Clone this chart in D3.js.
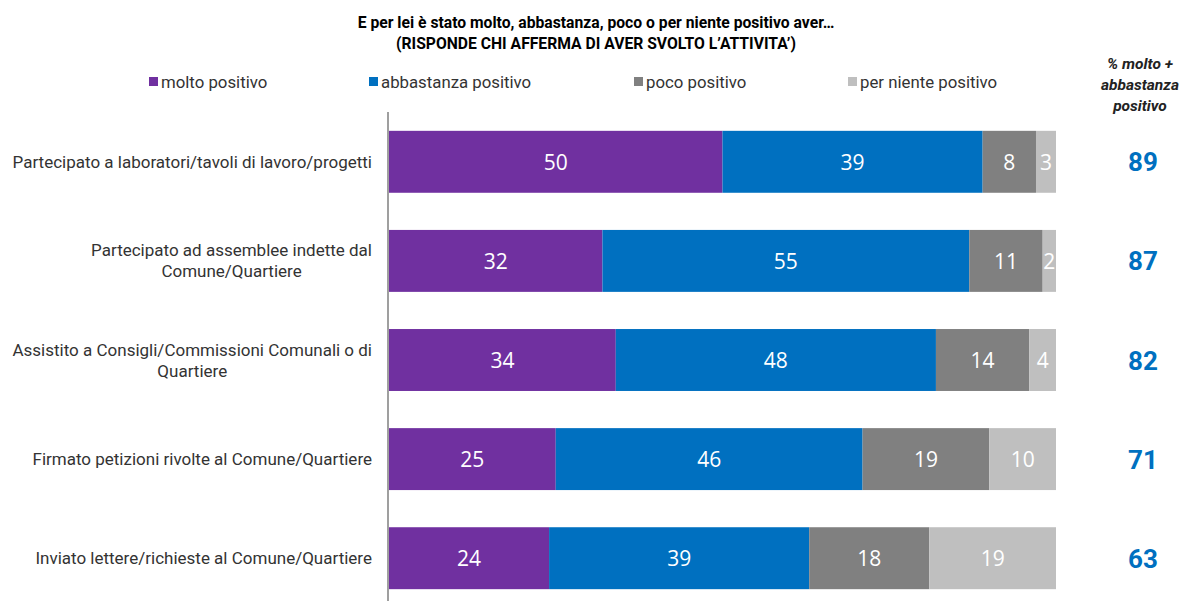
<!DOCTYPE html>
<html><head><meta charset="utf-8">
<script src="https://cdn.jsdelivr.net/npm/d3@7"></script>
<style>body{margin:0;background:#fff;}svg{display:block;}</style>
</head><body>
<svg id="c" width="1189" height="601"></svg>
<script>
const categories = [
  ["Partecipato a laboratori/tavoli di lavoro/progetti"],
  ["Partecipato ad assemblee indette dal", "Comune/Quartiere"],
  ["Assistito a Consigli/Commissioni Comunali o di", "Quartiere"],
  ["Firmato petizioni rivolte al Comune/Quartiere"],
  ["Inviato lettere/richieste al Comune/Quartiere"]
];
const seriesNames = ["molto positivo", "abbastanza positivo", "poco positivo", "per niente positivo"];
const molto = [50, 32, 34, 25, 24];
const abbastanza = [39, 55, 48, 46, 39];
const poco = [8, 11, 14, 19, 18];
const perNiente = [3, 2, 4, 10, 19];
const totals = [89, 87, 82, 71, 63];
const colors = ["#7030A0", "#0070C0", "#808080", "#BFBFBF"];
const titleLines = ["E per lei è stato molto, abbastanza, poco o per niente positivo aver…", "(RISPONDE CHI AFFERMA DI AVER SVOLTO L’ATTIVITA’)"];
const rightHeader = ["% molto +", "abbastanza", "positivo"];

const svg = d3.select("#c");
const font = "Roboto, sans-serif";
const series = [molto, abbastanza, poco, perNiente];
const rows = categories.map((c, i) => {
  const o = {idx: i};
  seriesNames.forEach((s, j) => o[s] = series[j][i]);
  return o;
});
const stacked = d3.stack().keys(seriesNames)(rows);

const x = d3.scaleLinear().domain([0, 100]).range([389, 1056]);
const y = d3.scaleBand().domain(d3.range(categories.length)).range([112, 608]).paddingInner(0.375).paddingOuter(0.19);

// title
svg.append("g").selectAll("text").data(titleLines).join("text")
  .attr("x", 596).attr("y", (d, i) => 28 + i * 21)
  .attr("text-anchor", "middle").attr("font-family", font).attr("font-weight", "bold")
  .attr("font-size", 15.7).attr("fill", "#000").text(d => d);

// legend
const legX = [149, 369, 634, 848];
const leg = svg.append("g").selectAll("g").data(seriesNames).join("g")
  .attr("transform", (d, i) => `translate(${legX[i]},77)`);
leg.append("rect").attr("width", 9).attr("height", 9).attr("y", 0).attr("fill", (d, i) => colors[i]);
leg.append("text").attr("x", 12).attr("y", 11).attr("font-family", font).attr("font-size", 16.8)
  .attr("fill", "#333").text(d => d);

// right header
svg.append("g").selectAll("text").data(rightHeader).join("text")
  .attr("x", 1140).attr("y", (d, i) => 69 + i * 21)
  .attr("text-anchor", "middle").attr("font-family", font).attr("font-weight", "bold")
  .attr("font-style", "italic").attr("font-size", 15.5).attr("fill", "#222").text(d => d);

// bars
const layers = svg.append("g").selectAll("g").data(stacked).join("g").attr("fill", (d, i) => colors[i]);
layers.selectAll("rect").data(d => d).join("rect")
  .attr("x", d => x(d[0])).attr("width", d => x(d[1]) - x(d[0]))
  .attr("y", (d, i) => y(i)).attr("height", y.bandwidth());
layers.selectAll("text").data(d => d).join("text")
  .attr("x", d => (x(d[0]) + x(d[1])) / 2).attr("y", (d, i) => y(i) + y.bandwidth() / 2 + 8)
  .attr("text-anchor", "middle").attr("font-family", "'Open Sans', sans-serif").attr("font-size", 21)
  .attr("fill", "#fff").text(d => d[1] - d[0]);

// axis line
svg.append("line").attr("x1", 388).attr("x2", 388).attr("y1", 112).attr("y2", 601)
  .attr("stroke", "#7f7f7f").attr("stroke-width", 1.5);

// category labels: first line right-aligned, following lines centred on it
const cl = svg.append("g").selectAll("text").data(categories).join("text")
  .attr("text-anchor", "middle").attr("font-family", font).attr("font-size", 17).attr("fill", "#333");
cl.each(function(lines, i) {
  const t = d3.select(this);
  const cy = y(i) + y.bandwidth() / 2;
  const start = cy - (lines.length - 1) * 10.5 + 6;
  const tmp = t.append("tspan").text(lines[0]);
  const w = tmp.node().getComputedTextLength();
  tmp.remove();
  const cx = 372 - w / 2;
  t.selectAll("tspan").data(lines).join("tspan")
    .attr("x", cx).attr("y", (d, k) => start + k * 21).text(d => d);
});

// totals
svg.append("g").selectAll("text").data(totals).join("text")
  .attr("x", 1143).attr("y", (d, i) => y(i) + y.bandwidth() / 2 + 9.5)
  .attr("text-anchor", "middle").attr("font-family", font).attr("font-weight", "bold")
  .attr("font-size", 26).attr("fill", "#0070C0").text(d => d);
</script>
</body></html>
